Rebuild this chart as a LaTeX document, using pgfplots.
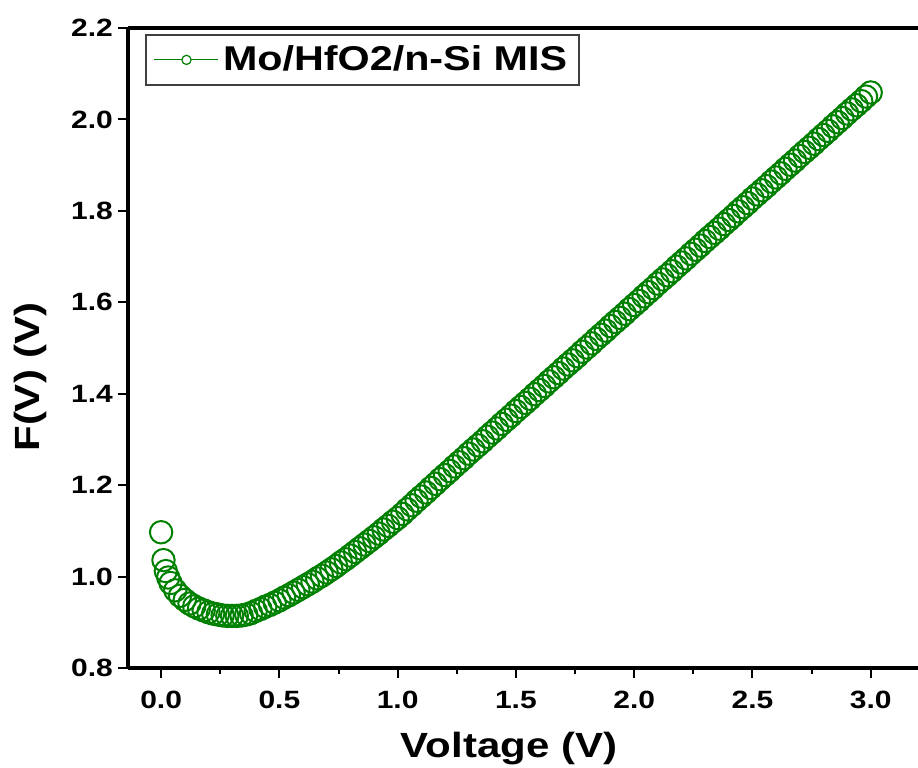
\documentclass[border=0pt]{standalone}
\usepackage{fontspec}
\setmainfont{Liberation Sans}[FakeStretch=1.2]
\usepackage{pgfplots}
\pgfplotsset{compat=1.18}
\usetikzlibrary{calc}
\definecolor{ogreen}{RGB}{0,128,0}
\begin{document}
\begin{tikzpicture}
\begin{axis}[
  name=ax,
  scale only axis,
  width=395pt, height=320pt,
  xmin=-0.14, xmax=3.20, ymin=0.8, ymax=2.2,
  axis x line*=bottom, axis y line*=left,
  axis line style={line width=1.8pt, -},
  xtick={0,0.5,1.0,1.5,2.0,2.5,3.0},
  minor xtick={0.25,0.75,1.25,1.75,2.25,2.75},
  ytick={0.8,1.0,1.2,1.4,1.6,1.8,2.0,2.2},
  tick align=outside,
  major tick length=5pt, minor tick length=3pt,
  every tick/.style={line width=1pt, black},
  /pgf/number format/assume math mode=true,
  /pgf/number format/.cd, fixed, fixed zerofill, precision=1, /pgfplots/.cd,
  tick label style={font=\bfseries\fontsize{12.5}{14}\selectfont},
  xticklabel style={yshift=-3pt},
  yticklabel style={xshift=1pt},
  xlabel={Voltage (V)},
  ylabel={F(V) (V)},
  xlabel style={at={(axis description cs:0.4823,-0.1406)}, anchor=base, font=\bfseries\fontsize{17.5}{20}\selectfont},
  ylabel style={at={(axis description cs:-0.124,0.4547)}, anchor=center, font=\bfseries\fontsize{17.5}{20}\selectfont},
  legend style={at={(axis description cs:0.0215,0.9906)}, anchor=north west,
    draw=black!75, line width=0.9pt, font=\bfseries\fontsize{17.2}{19}\selectfont,
    inner xsep=4pt, inner ysep=3.5pt},
  legend cell align=left,
]
\addplot[only marks, mark=o, mark size=5.6pt, ogreen, mark options={line width=1pt},
  legend image code/.code={
    \draw[ogreen, line width=0.6pt] (0pt,0pt) -- (32pt,0pt);
    \draw[ogreen, line width=0.6pt, fill=white] (16pt,0pt) circle (2.3pt);
  }] coordinates {
(0.00,1.097) (0.01,1.036) (0.02,1.012) (0.03,0.998) (0.04,0.986)
(0.06,0.970) (0.08,0.958) (0.10,0.949) (0.12,0.941) (0.14,0.935)
(0.16,0.930) (0.18,0.926) (0.20,0.922) (0.22,0.919) (0.24,0.917)
(0.26,0.915) (0.28,0.914) (0.30,0.914) (0.32,0.914) (0.34,0.915)
(0.36,0.917) (0.38,0.920) (0.40,0.925) (0.42,0.929) (0.44,0.934)
(0.46,0.938) (0.48,0.943) (0.50,0.948) (0.52,0.954) (0.54,0.959)
(0.56,0.965) (0.58,0.971) (0.60,0.977) (0.62,0.983) (0.64,0.989)
(0.66,0.996) (0.68,1.002) (0.70,1.009) (0.72,1.016) (0.74,1.023)
(0.76,1.031) (0.78,1.038) (0.80,1.046) (0.82,1.054) (0.84,1.062)
(0.86,1.070) (0.88,1.078) (0.90,1.086) (0.92,1.094) (0.94,1.103)
(0.96,1.111) (0.98,1.120) (1.00,1.128) (1.02,1.137) (1.04,1.147)
(1.06,1.156) (1.08,1.166) (1.10,1.175) (1.12,1.184) (1.14,1.194)
(1.16,1.203) (1.18,1.213) (1.20,1.222) (1.22,1.231) (1.24,1.241)
(1.26,1.250) (1.28,1.259) (1.30,1.269) (1.32,1.278) (1.34,1.287)
(1.36,1.296) (1.38,1.306) (1.40,1.315) (1.42,1.324) (1.44,1.334)
(1.46,1.343) (1.48,1.352) (1.50,1.362) (1.52,1.371) (1.54,1.380)
(1.56,1.389) (1.58,1.399) (1.60,1.408) (1.62,1.417) (1.64,1.427)
(1.66,1.436) (1.68,1.445) (1.70,1.455) (1.72,1.464) (1.74,1.473)
(1.76,1.482) (1.78,1.492) (1.80,1.501) (1.82,1.510) (1.84,1.520)
(1.86,1.529) (1.88,1.538) (1.90,1.548) (1.92,1.557) (1.94,1.566)
(1.96,1.575) (1.98,1.585) (2.00,1.594) (2.02,1.603) (2.04,1.613)
(2.06,1.622) (2.08,1.631) (2.10,1.641) (2.12,1.650) (2.14,1.659)
(2.16,1.668) (2.18,1.678) (2.20,1.687) (2.22,1.696) (2.24,1.706)
(2.26,1.715) (2.28,1.724) (2.30,1.734) (2.32,1.743) (2.34,1.752)
(2.36,1.761) (2.38,1.771) (2.40,1.780) (2.42,1.789) (2.44,1.799)
(2.46,1.808) (2.48,1.817) (2.50,1.827) (2.52,1.836) (2.54,1.845)
(2.56,1.854) (2.58,1.864) (2.60,1.873) (2.62,1.882) (2.64,1.892)
(2.66,1.901) (2.68,1.910) (2.70,1.920) (2.72,1.929) (2.74,1.938)
(2.76,1.947) (2.78,1.957) (2.80,1.966) (2.82,1.975) (2.84,1.985)
(2.86,1.994) (2.88,2.003) (2.90,2.013) (2.92,2.022) (2.94,2.031)
(2.96,2.040) (2.98,2.050) (3.00,2.059)
};
\addlegendentry{Mo/HfO2/n-Si MIS}
\end{axis}
\draw[line width=1.8pt] (ax.north west) -- (ax.north east);
\pgfresetboundingbox
\path[use as bounding box] ($(ax.south west)+(-64pt,-49.5pt)$) rectangle ($(ax.north east)+(0pt,14pt)$);
\end{tikzpicture}
\end{document}
